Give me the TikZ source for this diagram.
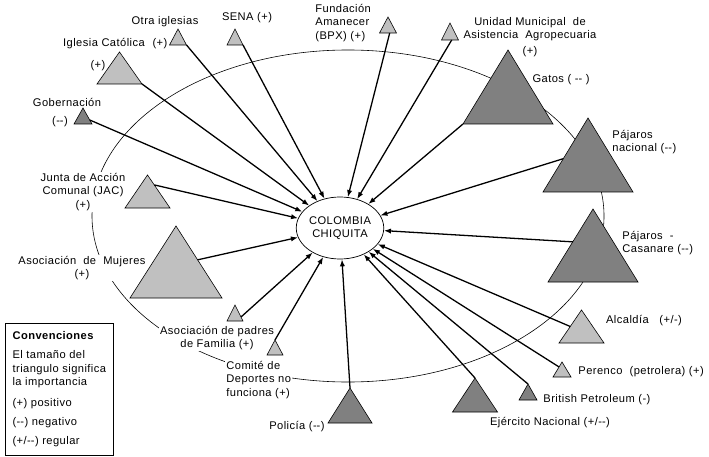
\documentclass[tikz,border=0pt]{standalone}
\usepackage{fontspec}
\setmainfont{Liberation Sans}[LetterSpace=4]
\usetikzlibrary{arrows.meta,calc,shapes.geometric}
\definecolor{trilight}{RGB}{192,192,192}
\definecolor{tridark}{RGB}{128,128,128}
\newcommand{\lblfont}{\fontsize{9.5}{11.5}\selectfont}
\newcommand{\mneg}{-\kern0pt-}
\tikzset{
  lbl/.style={font=\lblfont, inner sep=1pt, fill=white, align=center},
  tri/.style={draw, line width=0.5pt},
  arr/.style={-{Latex[length=6pt,width=4.5pt]}, line width=1.1pt},
  orbit/.style={draw, line width=0.5pt},
  hub/.style={draw, ellipse, fill=white, line width=0.6pt,
    minimum width=2.4cm, minimum height=1.86cm, inner sep=0pt,
    align=center, font=\lblfont},
  legend/.style={draw, line width=0.6pt, anchor=north west, align=left,
    font=\lblfont, minimum width=3.24cm, minimum height=3.96cm},
}
% triangle: name, centre x, base y, width, height, fill
\newcommand{\trimark}[6]{%
  \draw[tri, fill=#6] (#2-#4/2,#3) coordinate (#1-l) -- (#2+#4/2,#3) coordinate (#1-r)
    -- (#2,#3-#5) coordinate (#1-a) -- cycle;}

\begin{document}
\begin{tikzpicture}[x=0.03cm, y=-0.03cm]
  \useasboundingbox (0,0) rectangle (709,457);
  \draw[orbit] (348,216) ellipse [x radius=7.68cm, y radius=4.98cm];

  % Labels
  \node[lbl] (oil) at (165,22) {Otra iglesias};
  \node[lbl] (oip) at (160,44) {(+)};
  \node[lbl] (icl) at (104,44) {Iglesia Católica};
  \node[lbl] (icp) at (98,66) {(+)};
  \node[lbl] (senal) at (247,18) {SENA (+)};
  \node[lbl, anchor=west, align=left] (fal) at (314,23) {Fundación\\Amanecer\\(BPX) (+)};
  \node[lbl] (umatal) at (530,37) {Unidad Municipal \ de\\Asistencia \ Agropecuaria\\[2pt](+)};
  \node[lbl] (gatl) at (561,80) {Gatos ( \mneg\ )};
  \node[lbl, anchor=west, align=left] (pnl) at (611,142) {Pájaros\\nacional (\mneg)};
  \node[lbl, anchor=west, align=left] (pcl) at (621,243) {Pájaros \ -\\Casanare (\mneg)};
  \node[lbl] (alcl) at (644,321) {Alcaldía \ \ (+/-)};
  \node[lbl, anchor=west] (perl) at (577,372) {Perenco \ (petrolera) (+)};
  \node[lbl, anchor=west] (bpl) at (542,400) {British Petroleum (-)};
  \node[lbl] (ejl) at (550,423) {Ejército Nacional (+/\mneg)};
  \node[lbl, anchor=east] (poll) at (326,427) {Policía (\mneg)};
  \node[lbl, anchor=west, align=left] (cdl) at (225,380) {Comité de\\Deportes no\\funciona (+)};
  \node[lbl] (apfl) at (217,338) {Asociación de padres\\de Familia (+)};
  \node[lbl] (mujl) at (82,268) {Asociación \ de \ Mujeres\\(+)};
  \node[lbl] (jacl) at (83,192) {Junta de Acción\\Comunal (JAC)\\(+)};
  \node[lbl] (gobl) at (67,102) {Gobernación};
  \node[lbl] (gobp) at (60,122) {(\mneg)};

  % Actors (size = importance)
  \trimark{oi}{178}{45}{17}{16}{trilight}
  \trimark{sena}{235}{45}{16}{16}{trilight}
  \trimark{fa}{388}{33}{17}{16}{trilight}
  \trimark{umata}{450}{40}{17}{17}{trilight}
  \trimark{ic}{119.5}{84}{45}{32}{trilight}
  \trimark{gob}{83}{124}{18}{16}{tridark}
  \trimark{jac}{147.5}{208}{45}{33}{trilight}
  \trimark{muj}{176}{298}{92}{72}{trilight}
  \trimark{apf}{235}{321}{16}{16}{trilight}
  \trimark{cdep}{275}{355}{16}{15}{trilight}
  \trimark{pol}{350}{423}{44}{35}{tridark}
  \trimark{ejer}{475}{412}{45}{34}{tridark}
  \trimark{bp}{528}{400}{18}{16}{tridark}
  \trimark{per}{562}{377}{18}{15}{trilight}
  \trimark{alc}{581.5}{343}{45}{33}{trilight}
  \trimark{pc}{593}{282}{90}{73}{tridark}
  \trimark{pn}{588}{192}{90}{74}{tridark}
  \trimark{gat}{508}{124}{90}{74}{tridark}

  \node[hub] (cc) at (340,228) {COLOMBIA\\CHIQUITA};

  % Relations
  \coordinate (fa-s) at ($(fa-l)!0.6!(fa-r)$);
  \coordinate (umata-s) at ($(umata-l)!0.6!(umata-r)$);
  \coordinate (pn-s) at ($(pn-a)!0.55!(pn-l)$);
  \coordinate (pc-s) at ($(pc-a)!0.45!(pc-l)$);
  \coordinate (alc-s) at ($(alc-a)!0.5!(alc-l)$);
  \coordinate (per-s) at ($(per-a)!0.33!(per-l)$);
  \coordinate (apf-s) at ($(apf-a)!0.75!(apf-r)$);
  \coordinate (muj-s) at ($(muj-a)!0.47!(muj-r)$);
  \coordinate (jac-s) at ($(jac-a)!0.3!(jac-r)$);
  \coordinate (gob-s) at ($(gob-a)!0.75!(gob-r)$);
  \foreach \s in {ic-r, oi-r, sena-r, fa-s, umata-s, gat-l, pn-s, pc-s, alc-s,
                  per-s, bp-a, ejer-a, pol-a, cdep-a, apf-s, muj-s, jac-s, gob-s}
    \draw[arr] (\s) -- (cc);

  % Legend
  \node[legend] (conv) at (5,323) {\textbf{Convenciones}\\[4.5pt]
    El tamaño del\\triangulo significa\\la importancia\\[6pt]
    (+) positivo\\[5.5pt]
    (\mneg) negativo\\[4.5pt]
    (+/\mneg) regular};
\end{tikzpicture}
\end{document}
